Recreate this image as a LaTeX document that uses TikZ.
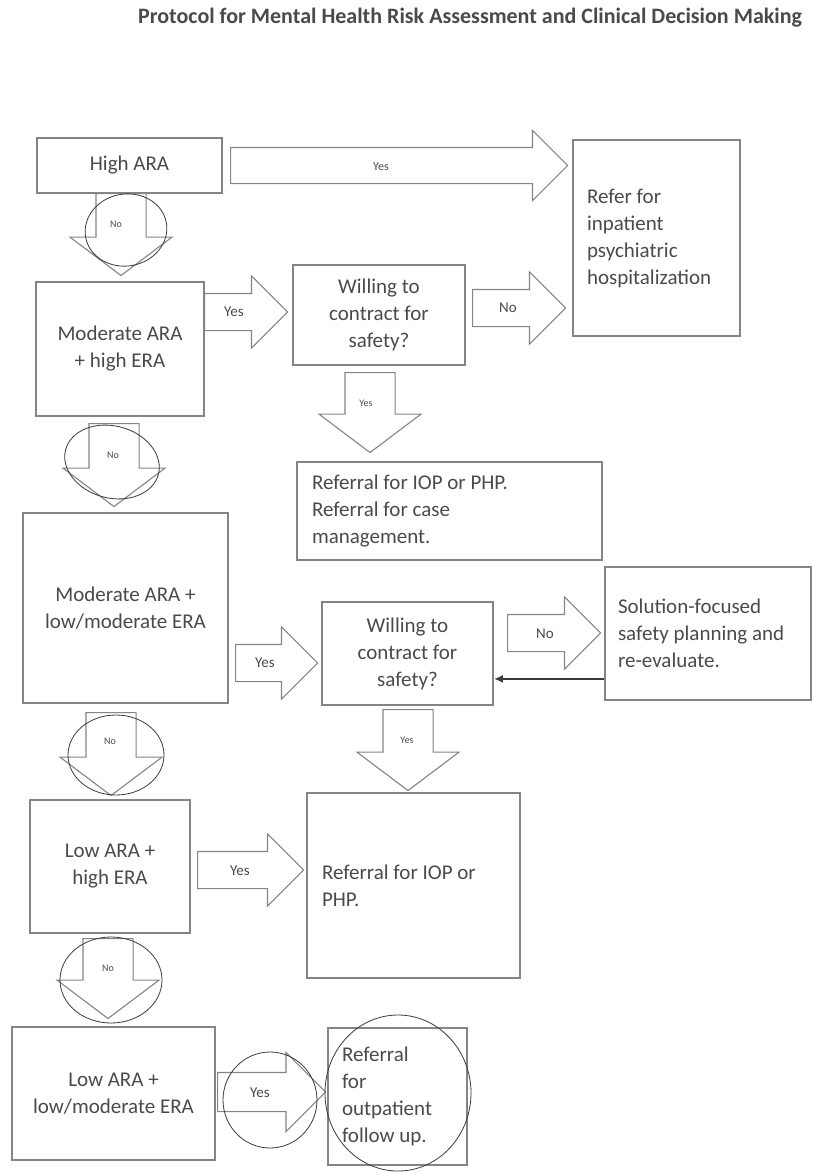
\documentclass[tikz,border=0pt]{standalone}
\usepackage{fontspec}
\setmainfont{Carlito}
\usetikzlibrary{shapes.arrows,arrows.meta,positioning}
\definecolor{boxGray}{HTML}{858585}
\definecolor{txtGray}{HTML}{4A4A4A}
\definecolor{penGray}{HTML}{3A3A3A}
\tikzset{
myBox/.style={
	draw=boxGray, line width=1.8pt, text=txtGray,
	font=\fontsize{21}{27}\selectfont, align=flush center, inner sep=0pt
}
, myBoxL/.style={myBox, align=flush left, inner xsep=14pt}
, myArrow/.style={
	single arrow, draw=boxGray, fill=white, line width=1.1pt,
	minimum width=0pt, anchor=tail
}
, mySide/.style={
	myArrow, inner sep=18pt, single arrow tip angle=90,
	single arrow head extend=17.5pt
}
, myDown/.style={
	myArrow, inner sep=24.5pt, shape border rotate=270,
	single arrow tip angle=106, single arrow head extend=26pt,
	minimum height=82pt
}
, myLabel/.style={text=txtGray, inner sep=0pt, font=\fontsize{15}{15}\selectfont}
, myTiny/.style={myLabel, font=\fontsize{10}{10}\selectfont}
% link
, myBack/.style={-{Latex[length=9pt,width=8pt]}, draw=penGray, line width=1.8pt}
, myPen/.style={draw=penGray, line width=0.8pt}
}
\begin{document}
\begin{tikzpicture}[x=1pt,y=-1pt]
	\useasboundingbox (0,0) rectangle (813,1173);
	\node[font=\bfseries\fontsize{22}{24}\selectfont, text=txtGray] (title) at (470,18)
		{Protocol for Mental Health Risk Assessment and Clinical Decision Making};

	% nodes
	\node[myBox, minimum width=185pt, minimum height=55pt] (high) at (129.5,165.5) {High ARA};
	\node[myBoxL, text width=139pt, minimum height=196pt] (refer) at (656.5,238)
		{Refer for\\inpatient\\psychiatric\\hospitalization};
	\node[myBox, minimum width=168pt, minimum height=134pt] (modHigh) at (120,349) {Moderate ARA\\+ high ERA};
	\node[myBox, minimum width=172pt, minimum height=100pt] (will1) at (379,315) {Willing to\\contract for\\safety?};
	\node[myBoxL, inner xsep=15pt, text width=275pt, minimum height=98pt] (caseRef) at (449.5,511)
		{Referral for IOP or PHP.\\Referral for case\\management.};
	\node[myBox, minimum width=205pt, minimum height=190pt] (modLow) at (125.5,608) {Moderate ARA +\\low/moderate ERA};
	\node[myBox, minimum width=171pt, minimum height=103pt] (will2) at (407.5,653.5) {Willing to\\contract for\\safety?};
	\node[myBoxL, inner xsep=13pt, text width=180pt, minimum height=133pt] (sol) at (708,633.5)
		{Solution-focused\\safety planning and\\re-evaluate.};
	\node[myBox, minimum width=160pt, minimum height=133pt] (lowHigh) at (110,866.5) {Low ARA +\\high ERA};
	\node[myBoxL, inner xsep=15pt, text width=183pt, minimum height=185pt] (iopRef) at (413.5,885.5)
		{Referral for IOP or\\PHP.};
	\node[myBox, minimum width=203pt, minimum height=133pt] (lowLow) at (113.5,1093.5) {Low ARA +\\low/moderate ERA};
	\node[myBoxL, text width=111pt, minimum height=137pt] (outRef) at (397.5,1096.5)
		{Referral\\for\\outpatient\\follow up.};

	% block arrows
	\node[mySide, inner sep=17.5pt, single arrow head extend=17pt, minimum height=337pt] (yesTop) at (230,165.5) {};
	\node[myDown] (noTop) at (121,193) {};
	\node[mySide, minimum height=83pt] (yesMH) at (204,312) {};
	\node[mySide, minimum height=93pt] (noW1) at (472,308) {};
	\node[myDown, minimum height=80pt] (yesW1) at (370,372) {};
	\node[myDown, minimum height=83pt] (noMH) at (114,423) {};
	\node[mySide, minimum height=82pt] (yesML) at (235,663) {};
	\node[mySide, minimum height=93pt] (noW2) at (507,633) {};
	\node[myDown, minimum height=81pt] (yesW2) at (408,709) {};
	\node[myDown, minimum height=83pt] (noML) at (111,712) {};
	\node[mySide, minimum height=106pt] (yesLH) at (197,870) {};
	\node[myDown, minimum height=80pt] (noLH) at (108,938) {};
	\node[mySide, inner sep=19pt, single arrow head extend=20pt, minimum height=108pt] (yesLL) at (217,1092) {};

	% arrow labels
	\node[myLabel, font=\fontsize{12}{12}\selectfont] (yesTopT) at (381,167) {Yes};
	\node[myTiny] (noTopT) at (116,224) {No};
	\node[myLabel] (yesMHT) at (234,312) {Yes};
	\node[myLabel] (noW1T) at (508,308) {No};
	\node[myTiny] (yesW1T) at (366,403) {Yes};
	\node[myTiny] (noMHT) at (113,455) {No};
	\node[myLabel] (yesMLT) at (265,663) {Yes};
	\node[myLabel] (noW2T) at (545,634) {No};
	\node[myTiny] (yesW2T) at (407,740) {Yes};
	\node[myTiny] (noMLT) at (110,741) {No};
	\node[myLabel] (yesLHT) at (240,871) {Yes};
	\node[myTiny] (noLHT) at (108,968) {No};
	\node[myLabel] (yesLLT) at (260,1093) {Yes};

	% links
	\coordinate (fbStart) at ([yshift=22pt]sol.south west);
	\draw[myBack] (fbStart) -- (fbStart -| will2.east);

	% pen marks
	\draw[myPen, rotate around={10:(126,230)}] (126,230) ellipse [x radius=41pt, y radius=36pt];
	\draw[myPen, rotate around={-15:(112,462)}] (112,462) ellipse [x radius=48pt, y radius=36pt];
	\draw[myPen] (116,755) ellipse [x radius=48pt, y radius=40pt];
	\draw[myPen] (111,980) ellipse [x radius=51pt, y radius=43pt];
	\draw[myPen] (270,1100) ellipse [x radius=47pt, y radius=48pt];
	\draw[myPen] (398,1093) ellipse [x radius=73pt, y radius=78pt];
\end{tikzpicture}
\end{document}
